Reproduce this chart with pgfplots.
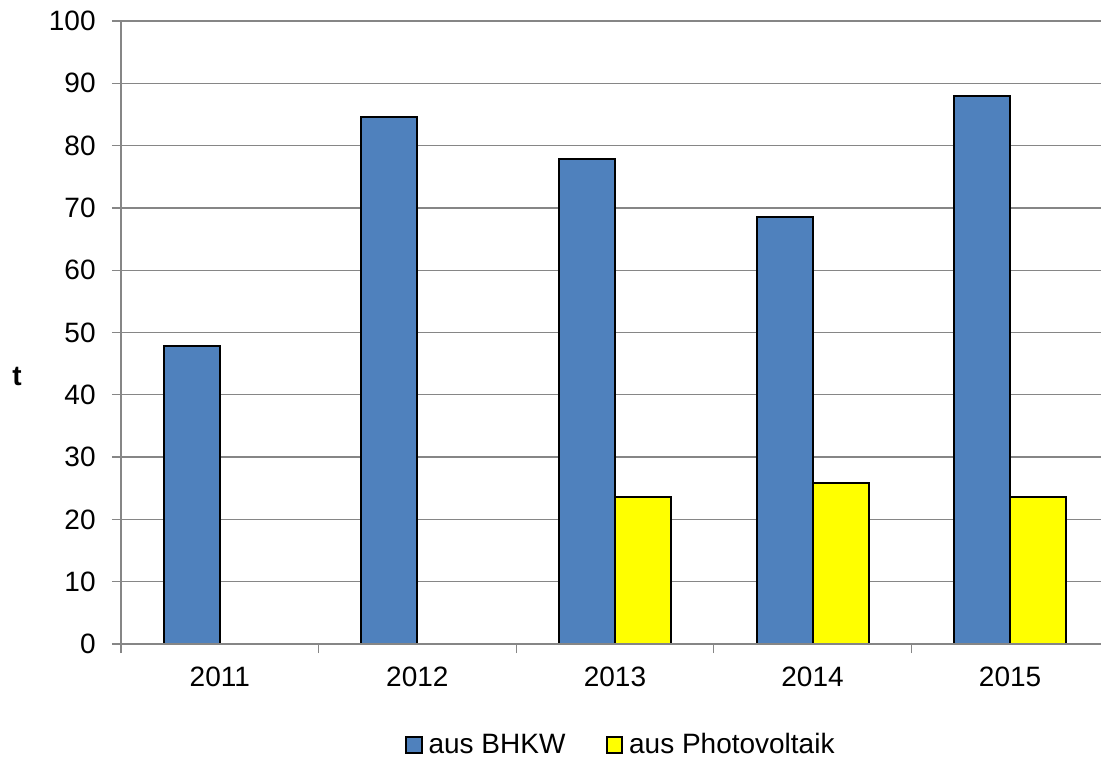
\documentclass[border=0pt]{standalone}
\usepackage{pgfplots}
\pgfplotsset{compat=1.18}
\usepackage{fontspec}
\setmainfont{Liberation Sans}

\definecolor{bhkwblue}{HTML}{4F81BD}
\definecolor{pvyellow}{HTML}{FFFF00}
\definecolor{gridgray}{HTML}{868686}

\pgfplotsset{
  sqlegend/.style={legend image code/.code={%
    \draw[##1, line width=1bp] (0bp,-3.9bp) rectangle (7.8bp,3.9bp);}},
}

\begin{document}
\begin{tikzpicture}
\useasboundingbox (-60.5bp,-58bp) rectangle (490bp,322bp);
\begin{axis}[
  name=ax,
  scale only axis,
  width=490bp, height=311.5bp,
  ybar=0pt, bar width=28bp,
  xmin=-0.5, xmax=4.46,
  ymin=0, ymax=100,
  xtick={0,1,2,3,4},
  xticklabels={2011,2012,2013,2014,2015},
  minor xtick={-0.5,0.5,1.5,2.5,3.5},
  ytick={0,10,...,100},
  axis x line*=bottom, axis y line*=left,
  axis line style={draw=gridgray, line width=0.65bp},
  ymajorgrids,
  major grid style={draw=gridgray, line width=0.65bp},
  tick align=outside,
  major tick length=4.5bp, minor tick length=4.5bp,
  major x tick style={draw=none},
  minor x tick style={draw=gridgray, line width=0.65bp},
  y tick style={draw=gridgray, line width=0.65bp},
  /pgf/number format/assume math mode=true,
  ticklabel style={font=\fontsize{14bp}{16bp}\selectfont, text=black},
  yticklabel style={anchor=east, inner sep=0pt, xshift=-8bp},
  xticklabel style={anchor=north, inner sep=0pt, yshift=-7bp},
  legend style={
    at={(0.2898,-0.162)}, anchor=west,
    draw=none, fill=none, inner sep=0pt, outer sep=0pt,
    legend columns=2,
    font=\fontsize{14bp}{16bp}\selectfont,
    nodes={inner sep=0pt, anchor=west},
    /tikz/every odd column/.style={column sep=3bp},
    /tikz/every even column/.style={column sep=20bp},
  },
  legend cell align=left,
]
\addplot[fill=bhkwblue, draw=black, line width=1bp, sqlegend]
  coordinates {(0,47.9) (1,84.6) (2,77.9) (3,68.5) (4,88.0)};
\addlegendentry{aus BHKW}
\addplot[fill=pvyellow, draw=black, line width=1bp, sqlegend]
  coordinates {(2,23.6) (3,25.9) (4,23.6)};
\addlegendentry{aus Photovoltaik}

% category axis redrawn over the bar bottoms
\draw[gridgray, line width=0.65bp] (rel axis cs:0,0) -- (rel axis cs:1,0);
\end{axis}

% unit label of the value axis
\node[font=\fontsize{14bp}{16bp}\selectfont\bfseries, inner sep=0pt]
  at ([xshift=-52bp, yshift=134bp]ax.south west) {t};
\end{tikzpicture}
\end{document}
